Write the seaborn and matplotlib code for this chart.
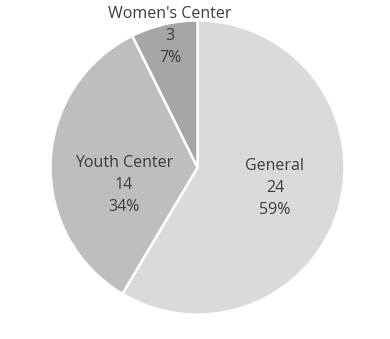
import matplotlib
matplotlib.use("Agg")
import matplotlib.pyplot as plt
import seaborn as sns

categories = ["General", "Youth Center", "Women's Center"]
counts = [24, 14, 3]
percent_labels = ["59%", "34%", "7%"]

sns.set_theme(style="white")
plt.rcParams['font.family'] = ['Open Sans', 'DejaVu Sans']

colors = ["#dadada", "#bebebe", "#a6a6a6"]
# label anchor positions (axes data coords, pie radius = 1)
label_pos = [(0.527, -0.139), (-0.50, -0.119), (-0.187, 0.895)]

fig = plt.figure(figsize=(3.90, 3.39), dpi=100)
fig.patch.set_facecolor("white")
ax = fig.add_axes([50.5 / 390, 24.5 / 339, 294 / 390, 294 / 339])
ax.pie(counts, colors=colors, startangle=90, counterclock=False, radius=1,
       wedgeprops=dict(edgecolor="white", linewidth=1.8))
ax.set_xlim(-1, 1)
ax.set_ylim(-1, 1)
ax.set_aspect("equal")
ax.axis("off")

for cat, n, pct, (x, y) in zip(categories, counts, percent_labels, label_pos):
    ax.text(x, y, f"{cat}\n{n}\n{pct}", ha="center", va="center",
            fontsize=11.5, color="#3c3c3c", linespacing=1.5)

fig.savefig("out.png", dpi=100, facecolor="white")
